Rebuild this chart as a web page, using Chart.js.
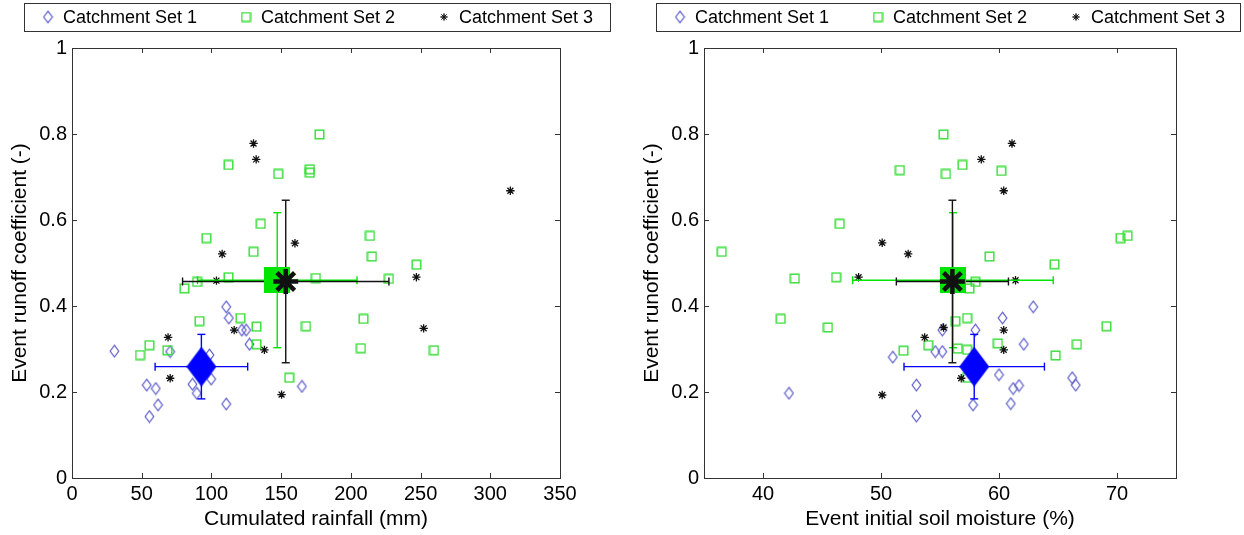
<!DOCTYPE html>
<html>
<head>
<meta charset="utf-8">
<script src="https://cdn.jsdelivr.net/npm/chart.js@4.4.1/dist/chart.umd.min.js"></script>
<style>
  html, body { margin: 0; padding: 0; background: #fff; }
  #wrap { position: relative; width: 1244px; height: 535px; }
  .panel { position: absolute; top: 0; width: 622px; height: 535px; }
</style>
</head>
<body>
<div id="wrap">
  <div class="panel" style="left:0"><canvas id="rainChart" width="622" height="535"></canvas></div>
  <div class="panel" style="left:622px"><canvas id="soilChart" width="622" height="535"></canvas></div>
</div>
<script>
// Series names
const seriesNames = ['Catchment Set 1', 'Catchment Set 2', 'Catchment Set 3'];

// Left panel: cumulated rainfall (mm) vs event runoff coefficient
const rainSet1 = [30.4, 70.4, 53.6, 60.1, 61.7, 55.5, 86.4, 89.5, 99.8, 98.6, 110.6, 110.6, 112.5, 121.8, 124.9, 127.3, 164.9];
const runoffRainSet1 = [0.295, 0.294, 0.216, 0.208, 0.170, 0.143, 0.218, 0.197, 0.230, 0.286, 0.172, 0.398, 0.372, 0.344, 0.344, 0.311, 0.213];

const rainSet2 = [177.5, 112.2, 147.9, 170.6, 170.6, 135.4, 96.4, 130.2, 112.2, 89.7, 80.6, 174.9, 213.7, 215.1,
  247.0, 227.3, 209.1, 207.2, 259.6, 120.8, 91.4, 132.3, 167.8, 132.3, 55.5, 68.4, 48.8, 155.8];
const runoffRainSet2 = [0.799, 0.728, 0.707, 0.718, 0.710, 0.591, 0.558, 0.526, 0.467, 0.456, 0.441, 0.465, 0.563, 0.515,
  0.496, 0.463, 0.370, 0.302, 0.297, 0.372, 0.365, 0.352, 0.353, 0.311, 0.309, 0.297, 0.286, 0.233];

const rainSet3 = [130.2, 132.1, 159.9, 107.7, 103.6, 314.4, 247.0, 252.2, 116.3, 68.9, 138.0, 70.4, 150.3];
const runoffRainSet3 = [0.778, 0.741, 0.546, 0.521, 0.459, 0.668, 0.467, 0.348, 0.344, 0.327, 0.298, 0.232, 0.194];

// Right panel: event initial soil moisture (%) vs event runoff coefficient
const soilSet1 = [42.2, 51.0, 54.6, 55.2, 53.0, 53.0, 55.2, 58.0, 60.3, 62.9, 62.1, 60.0, 61.2, 61.7, 61.0, 57.8, 66.2, 66.5];
const runoffSoilSet1 = [0.197, 0.281, 0.294, 0.294, 0.216, 0.144, 0.344, 0.344, 0.372, 0.398, 0.311, 0.240, 0.208, 0.215, 0.173, 0.170, 0.233, 0.216];

const soilSet2 = [36.5, 42.7, 46.2, 46.5, 51.6, 55.3, 56.9, 55.5, 60.2, 59.2, 64.7, 70.3, 70.9, 58.0,
  57.5, 41.5, 45.5, 51.9, 54.0, 56.3, 57.3, 56.5, 57.3, 59.9, 66.6, 64.8, 69.1, 57.3];
const runoffSoilSet2 = [0.526, 0.464, 0.467, 0.591, 0.716, 0.799, 0.728, 0.707, 0.714, 0.515, 0.497, 0.558, 0.563, 0.456,
  0.441, 0.370, 0.350, 0.296, 0.309, 0.365, 0.372, 0.301, 0.298, 0.313, 0.311, 0.285, 0.353, 0.233];

const soilSet3 = [50.1, 52.3, 48.1, 61.1, 58.5, 60.4, 61.4, 50.1, 53.7, 55.3, 60.4, 60.4, 56.8];
const runoffSoilSet3 = [0.547, 0.521, 0.467, 0.778, 0.741, 0.668, 0.460, 0.193, 0.327, 0.350, 0.344, 0.298, 0.232];

// Set means and standard deviations (set 1, set 2, set 3)
const runoffMean = [0.259, 0.460, 0.457];
const runoffSd = [0.075, 0.157, 0.189];
const rainMean = [92.8, 147.2, 153.3];
const rainSd = [33.2, 57.2, 74.0];
const soilMean = [57.9, 56.1, 56.05];
const soilSd = [5.95, 8.5, 4.75];

// Tick labels
const runoffTicks = [0, 0.2, 0.4, 0.6, 0.8, 1];
const rainTicks = [0, 50, 100, 150, 200, 250, 300, 350];
const soilTicks = [40, 50, 60, 70];

const FONT = "'Liberation Sans', Arial, sans-serif";
const colors = {
  set1: '#5a5ac8',
  set2: '#33dd33',
  set3: '#111111',
  mean1: '#0000ff',
  mean2: '#00e600',
  mean3: '#111111',
  axis: '#333333'
};

// Marker images (MATLAB-like diamonds and squares)
function markerCanvas(w, h, draw) {
  const c = document.createElement('canvas');
  c.width = w;
  c.height = h;
  draw(c.getContext('2d'), w, h);
  return c;
}

function diamondPath(ctx, w, h, inset) {
  ctx.beginPath();
  ctx.moveTo(w / 2, inset);
  ctx.lineTo(w - inset, h / 2);
  ctx.lineTo(w / 2, h - inset);
  ctx.lineTo(inset, h / 2);
  ctx.closePath();
}

const diamondSmall = markerCanvas(11, 14, (ctx, w, h) => {
  ctx.strokeStyle = colors.set1;
  ctx.lineWidth = 1.2;
  diamondPath(ctx, w, h, 1.2);
  ctx.stroke();
});
const squareSmall = markerCanvas(11, 11, (ctx) => {
  ctx.strokeStyle = colors.set2;
  ctx.lineWidth = 1.4;
  ctx.strokeRect(1.2, 1.2, 8.6, 8.6);
});
const diamondBig = markerCanvas(30, 40, (ctx, w, h) => {
  ctx.fillStyle = colors.mean1;
  diamondPath(ctx, w, h, 0);
  ctx.fill();
});
const squareBig = markerCanvas(26, 26, (ctx, w, h) => {
  ctx.fillStyle = colors.mean2;
  ctx.fillRect(0, 0, w, h);
});

function toPoints(xs, ys) {
  return xs.map((x, i) => ({ x: x, y: ys[i] }));
}

function errorBars(cx, cy, ex, ey, color) {
  const common = {
    showLine: true,
    borderColor: color,
    backgroundColor: color,
    borderWidth: 1.4,
    pointStyle: 'line',
    pointBorderWidth: 1.4,
    pointBorderColor: color
  };
  return [
    { ...common, data: [{ x: cx, y: cy - ey }, { x: cx, y: cy + ey }], pointRadius: 4, pointRotation: 0 },
    { ...common, data: [{ x: cx - ex, y: cy }, { x: cx + ex, y: cy }], pointRadius: 4, pointRotation: 90 }
  ];
}

function buildDatasets(xs1, ys1, xs2, ys2, xs3, ys3, xMean, xSd) {
  return [
    { data: [{ x: xMean[2], y: runoffMean[2] }], pointStyle: 'star', pointRadius: 12.5,
      pointBorderWidth: 4.5, borderColor: colors.mean3, backgroundColor: colors.mean3 },
    { data: [{ x: xMean[1], y: runoffMean[1] }], pointStyle: squareBig, pointRadius: 5 },
    { data: [{ x: xMean[0], y: runoffMean[0] }], pointStyle: diamondBig, pointRadius: 5 },
    ...errorBars(xMean[2], runoffMean[2], xSd[2], runoffSd[2], colors.mean3),
    ...errorBars(xMean[1], runoffMean[1], xSd[1], runoffSd[1], colors.mean2),
    ...errorBars(xMean[0], runoffMean[0], xSd[0], runoffSd[0], colors.mean1),
    { data: toPoints(xs3, ys3), pointStyle: 'star', pointRadius: 4.2, pointBorderWidth: 1.3,
      borderColor: colors.set3, backgroundColor: colors.set3 },
    { data: toPoints(xs2, ys2), pointStyle: squareSmall, pointRadius: 4 },
    { data: toPoints(xs1, ys1), pointStyle: diamondSmall, pointRadius: 4 }
  ];
}

// Box with inward ticks on all four sides, like MATLAB axes
const matlabFrame = {
  id: 'matlabFrame',
  afterDatasetsDraw(chart) {
    const { ctx, chartArea: a, scales } = chart;
    const len = 5;
    ctx.save();
    ctx.strokeStyle = colors.axis;
    ctx.lineWidth = 1;
    ctx.strokeRect(Math.round(a.left) + 0.5, Math.round(a.top) + 0.5,
      Math.round(a.right - a.left), Math.round(a.bottom - a.top));
    ctx.beginPath();
    scales.x.ticks.forEach(t => {
      const px = Math.round(scales.x.getPixelForValue(t.value)) + 0.5;
      ctx.moveTo(px, a.bottom); ctx.lineTo(px, a.bottom - len);
      ctx.moveTo(px, a.top); ctx.lineTo(px, a.top + len);
    });
    scales.y.ticks.forEach(t => {
      const py = Math.round(scales.y.getPixelForValue(t.value)) + 0.5;
      ctx.moveTo(a.left, py); ctx.lineTo(a.left + len, py);
      ctx.moveTo(a.right, py); ctx.lineTo(a.right - len, py);
    });
    ctx.stroke();
    ctx.restore();
  }
};

// Legend in a boxed row above the axes
const boxedLegend = {
  id: 'boxedLegend',
  afterDraw(chart, args, opts) {
    const ctx = chart.ctx;
    const my = opts.top + opts.height / 2;
    ctx.save();
    ctx.strokeStyle = colors.axis;
    ctx.lineWidth = 1;
    ctx.strokeRect(opts.left + 0.5, opts.top + 0.5, opts.width, opts.height);
    ctx.font = '18px ' + FONT;
    ctx.fillStyle = '#000';
    ctx.textBaseline = 'middle';
    seriesNames.forEach((name, i) => {
      const mx = opts.left + opts.markerOffset + i * opts.step;
      if (i === 0) {
        ctx.drawImage(diamondSmall, mx - diamondSmall.width / 2, my - diamondSmall.height / 2);
      } else if (i === 1) {
        ctx.drawImage(squareSmall, mx - squareSmall.width / 2, my - squareSmall.height / 2);
      } else {
        Chart.helpers.drawPoint(ctx, { pointStyle: 'star', radius: 3.5, rotation: 0, borderWidth: 1.3 }, mx, my);
        ctx.strokeStyle = colors.set3;
        ctx.stroke();
      }
      ctx.fillText(name, mx + opts.textGap, my + 1);
    });
    ctx.restore();
  }
};

function makeChart(id, cfg) {
  return new Chart(document.getElementById(id), {
    type: 'scatter',
    data: { datasets: cfg.datasets },
    options: {
      responsive: false,
      animation: false,
      events: [],
      layout: { padding: { top: 48, right: cfg.padRight, bottom: 0, left: 0 } },
      plugins: {
        legend: { display: false },
        tooltip: { enabled: false },
        boxedLegend: cfg.legend
      },
      scales: {
        x: {
          type: 'linear',
          min: cfg.xMin,
          max: cfg.xMax,
          afterBuildTicks: s => { s.ticks = cfg.xTicks.map(v => ({ value: v })); },
          afterFit: s => { s.height = 57; },
          grid: { display: false, drawTicks: false },
          border: { display: false },
          ticks: { padding: 4, color: '#000', font: { family: FONT, size: 20 }, callback: v => String(v) },
          title: { display: true, text: cfg.xTitle, color: '#000',
            font: { family: FONT, size: 21 }, padding: { top: 0, bottom: 3 } }
        },
        y: {
          type: 'linear',
          min: 0,
          max: 1,
          afterBuildTicks: s => { s.ticks = runoffTicks.map(v => ({ value: v })); },
          afterFit: s => { s.width = cfg.yWidth; },
          grid: { display: false, drawTicks: false },
          border: { display: false },
          ticks: { padding: 5, color: '#000', font: { family: FONT, size: 20 }, callback: v => String(v) },
          title: { display: true, text: 'Event runoff coefficient (-)', color: '#000',
            font: { family: FONT, size: 21 }, padding: { top: cfg.yTitlePad, bottom: 0 } }
        }
      }
    },
    plugins: [matlabFrame, boxedLegend]
  });
}

makeChart('rainChart', {
  datasets: buildDatasets(rainSet1, runoffRainSet1, rainSet2, runoffRainSet2, rainSet3, runoffRainSet3, rainMean, rainSd),
  xMin: 0, xMax: 350, xTicks: rainTicks,
  xTitle: 'Cumulated rainfall (mm)',
  yWidth: 72, padRight: 62, yTitlePad: 8,
  legend: { left: 24, top: 3, width: 586, height: 28, markerOffset: 24, textGap: 15, step: 198 }
});

makeChart('soilChart', {
  datasets: buildDatasets(soilSet1, runoffSoilSet1, soilSet2, runoffSoilSet2, soilSet3, runoffSoilSet3, soilMean, soilSd),
  xMin: 35, xMax: 75, xTicks: soilTicks,
  xTitle: 'Event initial soil moisture (%)',
  yWidth: 82, padRight: 68, yTitlePad: 18,
  legend: { left: 34, top: 3, width: 584, height: 28, markerOffset: 24, textGap: 15, step: 198 }
});
</script>
</body>
</html>
